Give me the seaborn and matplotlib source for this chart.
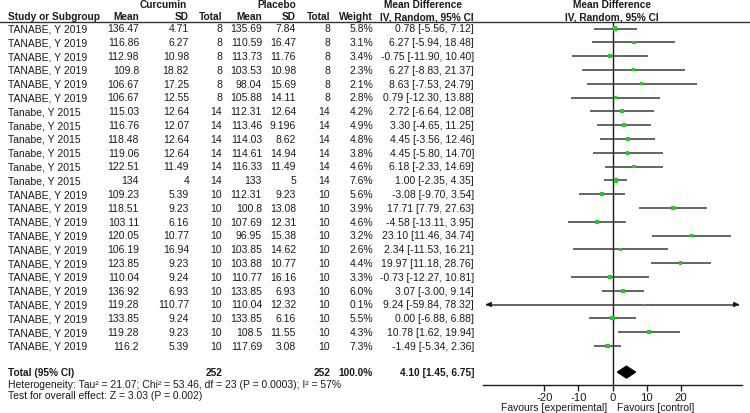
import matplotlib
matplotlib.use("Agg")
import matplotlib.pyplot as plt
import numpy as np
import pandas as pd
import seaborn as sns

# --------------------------- data ----------------- #
studies = ["TANABE, Y 2019"] * 6 + ["Tanabe, Y 2015"] * 6 + ["TANABE, Y 2019"] * 12
cur_mean = ["136.47", "116.86", "112.98", "109.8", "106.67", "106.67",
            "115.03", "116.76", "118.48", "119.06", "122.51", "134",
            "109.23", "118.51", "103.11", "120.05", "106.19", "123.85",
            "110.04", "136.92", "119.28", "133.85", "119.28", "116.2"]
cur_sd = ["4.71", "6.27", "10.98", "18.82", "17.25", "12.55",
          "12.64", "12.07", "12.64", "12.64", "11.49", "4",
          "5.39", "9.23", "6.16", "10.77", "16.94", "9.23",
          "9.24", "6.93", "110.77", "9.24", "9.23", "5.39"]
cur_n = [8] * 6 + [14] * 6 + [10] * 12
pla_mean = ["135.69", "110.59", "113.73", "103.53", "98.04", "105.88",
            "112.31", "113.46", "114.03", "114.61", "116.33", "133",
            "112.31", "100.8", "107.69", "96.95", "103.85", "103.88",
            "110.77", "133.85", "110.04", "133.85", "108.5", "117.69"]
pla_sd = ["7.84", "16.47", "11.76", "10.98", "15.69", "14.11",
          "12.64", "9.196", "8.62", "14.94", "11.49", "5",
          "9.23", "13.08", "12.31", "15.38", "14.62", "10.77",
          "16.16", "6.93", "12.32", "6.16", "11.55", "3.08"]
pla_n = [8] * 6 + [14] * 6 + [10] * 12
weight = [5.8, 3.1, 3.4, 2.3, 2.1, 2.8, 4.2, 4.9, 4.8, 3.8, 4.6, 7.6,
          5.6, 3.9, 4.6, 3.2, 2.6, 4.4, 3.3, 6.0, 0.1, 5.5, 4.3, 7.3]
md = [0.78, 6.27, -0.75, 6.27, 8.63, 0.79, 2.72, 3.30, 4.45, 4.45, 6.18, 1.00,
      -3.08, 17.71, -4.58, 23.10, 2.34, 19.97, -0.73, 3.07, 9.24, 0.00, 10.78, -1.49]
ci_lo = [-5.56, -5.94, -11.90, -8.83, -7.53, -12.30, -6.64, -4.65, -3.56, -5.80, -2.33, -2.35,
         -9.70, 7.79, -13.11, 11.46, -11.53, 11.18, -12.27, -3.00, -59.84, -6.88, 1.62, -5.34]
ci_hi = [7.12, 18.48, 10.40, 21.37, 24.79, 13.88, 12.08, 11.25, 12.46, 14.70, 14.69, 4.35,
         3.54, 27.63, 3.95, 34.74, 16.21, 28.76, 10.81, 9.14, 78.32, 6.88, 19.94, 2.36]

total_n = [252, 252]
total_md, total_lo, total_hi = 4.10, 1.45, 6.75
het_text = "Heterogeneity: Tau\u00b2 = 21.07; Chi\u00b2 = 53.46, df = 23 (P = 0.0003); I\u00b2 = 57%"
overall_text = "Test for overall effect: Z = 3.03 (P = 0.002)"
ticks = [-20, -10, 0, 10, 20]

df = pd.DataFrame({"study": studies, "md": md, "lo": ci_lo, "hi": ci_hi, "weight": weight})
df["row"] = np.arange(len(df))

# --------------------------- layout ----------------- #
W, H = 750, 414
ROW0, DROW = 29.5, 13.8
LIM = 38.0
FS = 7.5      # regular text
FSB = 7.3     # bold text
TOTAL_ROW = 24.9
LEFT = 8


def row_px(i):
    return ROW0 + DROW * i


sns.set_theme(style="white")
plt.rcParams["font.family"] = ["Liberation Sans", "DejaVu Sans"]
plt.rcParams["axes.unicode_minus"] = False

fig = plt.figure(figsize=(W / 100, H / 100), dpi=100)
tab = fig.add_axes([0, 0, 1, 1])
tab.set_xlim(0, W)
tab.set_ylim(H, 0)
tab.axis("off")

# headers
hdr = dict(fontsize=FSB, fontweight="bold", va="center", color="#1a1a1a")
tab.text(163, 5, "Curcumin", ha="center", **hdr)
tab.text(277, 5, "Placebo", ha="center", **hdr)
tab.text(423, 5, "Mean Difference", ha="center", **hdr)
tab.text(612, 5, "Mean Difference", ha="center", **hdr)
tab.text(LEFT, 17, "Study or Subgroup", ha="left", **hdr)
cols_x = [139, 189, 222, 262, 296, 330, 373]
for x, lab in zip(cols_x, ["Mean", "SD", "Total", "Mean", "SD", "Total", "Weight"]):
    tab.text(x, 17, lab, ha="right", **hdr)
tab.text(474, 17, "IV, Random, 95% CI", ha="right", **hdr)
tab.text(612, 17, "IV, Random, 95% CI", ha="center", **hdr)
tab.plot([0, W], [22.5, 22.5], color="#333333", lw=1.0)

# table rows
txt = dict(fontsize=FS, va="center", color="#1a1a1a")
for i in range(len(studies)):
    y = row_px(i)
    tab.text(LEFT, y, studies[i], ha="left", **txt)
    vals = [cur_mean[i], cur_sd[i], str(cur_n[i]), pla_mean[i], pla_sd[i], str(pla_n[i]),
            f"{weight[i]:.1f}%"]
    for x, v in zip(cols_x, vals):
        tab.text(x, y, v, ha="right", **txt)
    tab.text(474, y, f"{md[i]:.2f} [{ci_lo[i]:.2f}, {ci_hi[i]:.2f}]", ha="right", **txt)

# total row
yt = row_px(TOTAL_ROW)
bold = dict(txt, fontweight="bold", fontsize=FSB)
tab.text(LEFT, yt, "Total (95% CI)", ha="left", **bold)
tab.text(cols_x[2], yt, str(total_n[0]), ha="right", **bold)
tab.text(cols_x[5], yt, str(total_n[1]), ha="right", **bold)
tab.text(cols_x[6], yt, "100.0%", ha="right", **bold)
tab.text(474, yt, f"{total_md:.2f} [{total_lo:.2f}, {total_hi:.2f}]", ha="right", **bold)
tab.text(LEFT, 385, het_text, ha="left", **txt)
tab.text(LEFT, 396.5, overall_text, ha="left", **txt)

# --------------------------- forest panel ----------------- #
x0, x1 = 483, 742
top_px, bot_px = 22.5, 386
ax = fig.add_axes([x0 / W, 1 - bot_px / H, (x1 - x0) / W, (bot_px - top_px) / H])
ax.set_xlim(-LIM, LIM)
ax.set_ylim((bot_px - ROW0) / DROW, (top_px - ROW0) / DROW)
ax.patch.set_alpha(0)
for s in ["top", "left", "right"]:
    ax.spines[s].set_visible(False)
ax.spines["bottom"].set_color("#1a1a1a")
ax.spines["bottom"].set_linewidth(1.0)
ax.set_yticks([])
ax.set_xticks(ticks)
ax.tick_params(axis="x", direction="out", length=4.5, width=1.0, color="#1a1a1a",
               labelsize=FS + 0.6, pad=0.5, bottom=True, labelcolor="#1a1a1a")
ax.axvline(0, color="#1a1a1a", lw=1.0)

lo_c = df["lo"].clip(-LIM + 0.8, LIM - 0.8)
hi_c = df["hi"].clip(-LIM + 0.8, LIM - 0.8)
ax.hlines(df["row"], lo_c, hi_c, color="#3a3a3a", lw=1.1)
over = df[(df["lo"] < -LIM) | (df["hi"] > LIM)]
for _, r in over.iterrows():
    ax.annotate("", xy=(-LIM, r["row"]), xytext=(-LIM + 2, r["row"]),
                arrowprops=dict(arrowstyle="-|>", color="#1a1a1a", lw=1.0, mutation_scale=7))
    ax.annotate("", xy=(LIM, r["row"]), xytext=(LIM - 2, r["row"]),
                arrowprops=dict(arrowstyle="-|>", color="#1a1a1a", lw=1.0, mutation_scale=7))

sns.scatterplot(data=df, x="md", y="row", size="weight", sizes=(2, 12), marker="s",
                color="#22cc22", edgecolor="none", legend=False, ax=ax, zorder=3)
ax.set_xlabel("")
ax.set_ylabel("")

# pooled diamond
dh = 0.43
ax.fill([total_lo, total_md, total_hi, total_md],
        [TOTAL_ROW, TOTAL_ROW - dh, TOTAL_ROW, TOTAL_ROW + dh],
        color="black", zorder=4)

fav_y = -(408 - bot_px) / (bot_px - top_px)
ax.text(-1.4, fav_y, "Favours [experimental]", transform=ax.get_xaxis_transform(),
        ha="right", va="center", fontsize=FS, color="#1a1a1a")
ax.text(1.2, fav_y, "Favours [control]", transform=ax.get_xaxis_transform(),
        ha="left", va="center", fontsize=FS, color="#1a1a1a")

fig.savefig("out.png", dpi=100)
